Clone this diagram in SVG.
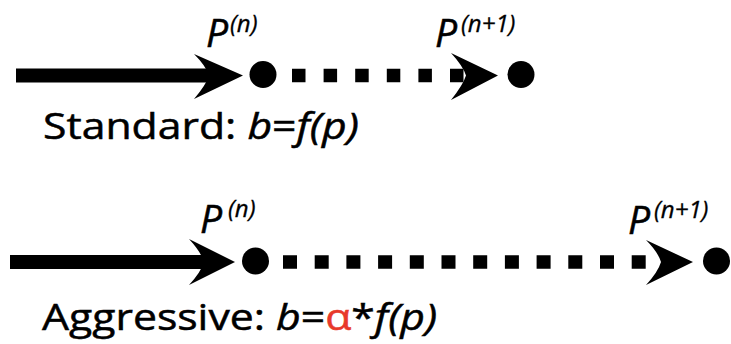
<svg xmlns="http://www.w3.org/2000/svg" width="731" height="344" viewBox="0 0 731 344">
<style>
  .lbl { font-family: "Open Sans", "Liberation Sans", sans-serif; fill: #000; stroke: #000; stroke-width: 0.5; }
  .it { font-style: italic; }
  .big { font-size: 39px; }
  .sup { font-size: 24px; font-style: italic; stroke-width: 0.3; }
  .dot { fill: #000; }
  .solid { stroke: #000; stroke-width: 14; fill: none; }
  .dash { stroke: #000; stroke-width: 13.5; fill: none; }
  .head { fill: #000; }
  .red { fill: #e8392b; stroke: #e8392b; }
</style>
<rect width="731" height="344" fill="#fff"/>
<g id="connectors">
  <line class="solid" x1="16" y1="75.5" x2="222" y2="75.5"/>
  <path class="head" d="M243,75.5 L194,54 Q206,66 209,75.5 Q206,85 194,99 Z"/>
  <line class="dash" x1="292" y1="75.5" x2="466" y2="75.5" stroke-dasharray="13.5 18.1"/>
  <path class="head" d="M498,75.5 L451,53 Q463,66 466,75.5 Q463,85 451,100 Z"/>
  <line class="solid" x1="10" y1="262" x2="215" y2="262"/>
  <path class="head" d="M235,262 L189,239 Q201,252 204,262 Q201,272 189,285 Z"/>
  <line class="dash" x1="283" y1="262" x2="648" y2="262" stroke-dasharray="14 17.7"/>
  <path class="head" d="M693,262 L646,240 Q658,252 661,262 Q658,272 646,285 Z"/>
</g>
<g id="node-std-pn">
  <circle class="dot" cx="263" cy="74.5" r="13.5"/>
  <text class="lbl it big" x="206" y="47">P</text>
  <text class="lbl sup" x="230" y="32">(n)</text>
</g>
<g id="node-std-pn1">
  <circle class="dot" cx="521" cy="74.5" r="13.5"/>
  <text class="lbl it big" x="435" y="47">P</text>
  <text class="lbl sup" x="461" y="32">(n+1)</text>
</g>
<g id="node-agg-pn">
  <circle class="dot" cx="255.5" cy="261" r="13.5"/>
  <text class="lbl it big" x="200" y="233">P</text>
  <text class="lbl sup" x="228" y="217">(n)</text>
</g>
<g id="node-agg-pn1">
  <circle class="dot" cx="716.5" cy="261" r="13.5"/>
  <text class="lbl it big" x="628" y="234">P</text>
  <text class="lbl sup" x="654" y="218">(n+1)</text>
</g>
<g id="captions">
  <text class="lbl" transform="translate(43,139) scale(1.187,1)" font-size="36">Standard: <tspan class="it">b</tspan>=<tspan class="it">f(p)</tspan></text>
  <text class="lbl" transform="translate(42,330) scale(1.155,1)" font-size="37">Aggressive: <tspan class="it">b</tspan>=<tspan class="red">α</tspan>*<tspan class="it">f(p)</tspan></text>
</g>
</svg>
